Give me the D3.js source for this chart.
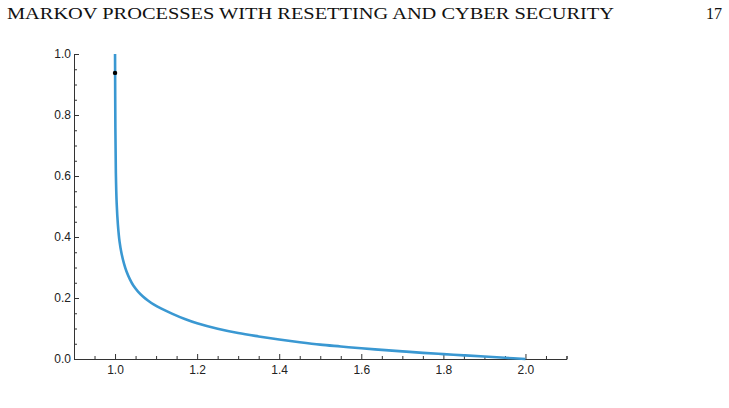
<!DOCTYPE html>
<html>
<head>
<meta charset="utf-8">
<script src="https://cdn.jsdelivr.net/npm/d3@7"></script>
<style>
  body { margin: 0; background: #fff; }
  svg { display: block; }
</style>
</head>
<body>
<div id="chart"></div>
<script>
var width  = 729;
var height = 408;

// curve
var xs = [1.0, 1.0008, 1.002, 1.004, 1.007, 1.011, 1.016, 1.022, 1.028, 1.036, 1.045, 1.056,
  1.068, 1.080, 1.095, 1.113, 1.14, 1.17, 1.2, 1.25, 1.3, 1.35, 1.4, 1.45, 1.5, 1.55,
  1.6, 1.65, 1.7, 1.75, 1.8, 1.85, 1.9, 1.95, 2.0];
var ys = [1.0, 0.76, 0.61, 0.51, 0.44, 0.385, 0.345, 0.312, 0.287, 0.262, 0.240, 0.221,
  0.205, 0.192, 0.178, 0.165, 0.148, 0.131, 0.117, 0.099, 0.085, 0.074, 0.064, 0.055, 0.047, 0.041,
  0.035, 0.030, 0.025, 0.020, 0.016, 0.012, 0.008, 0.004, 0.0];
var point = [1.0, 0.938];

var xTicks = [1.0, 1.2, 1.4, 1.6, 1.8, 2.0];
var yTicks = [0.0, 0.2, 0.4, 0.6, 0.8, 1.0];

var header = "MARKOV PROCESSES WITH RESETTING AND CYBER SECURITY";
var pageNo = "17";

var svg = d3.select("#chart").append("svg")
  .attr("width", width)
  .attr("height", height);

svg.append("text")
  .attr("x", 7).attr("y", 19)
  .attr("textLength", 607)
  .attr("lengthAdjust", "spacingAndGlyphs")
  .style("font-family", "'Liberation Serif', 'DejaVu Serif', serif")
  .style("font-size", "16px")
  .style("fill", "#111")
  .text(header);

svg.append("text")
  .attr("x", 722).attr("y", 19)
  .attr("text-anchor", "end")
  .style("font-family", "'Liberation Serif', 'DejaVu Serif', serif")
  .style("font-size", "16px")
  .style("fill", "#111")
  .text(pageNo);

var x = d3.scaleLinear().domain([0.9, 2.1]).range([74, 566.5]);
var y = d3.scaleLinear().domain([0, 1]).range([359, 54]);

var minorX = d3.range(19, 43).map(function(i) { return i * 0.05; })
  .filter(function(v) { return Math.abs(v * 5 - Math.round(v * 5)) > 1e-6; });
var minorY = d3.range(0, 21).map(function(i) { return i * 0.05; })
  .filter(function(v) { return Math.abs(v * 5 - Math.round(v * 5)) > 1e-6; });

function styleAxis(g) {
  g.selectAll("path, line").attr("stroke", "#333").attr("stroke-width", 1);
  g.selectAll("text")
    .style("font-family", "'Liberation Sans', Arial, sans-serif")
    .style("font-size", "12px")
    .style("fill", "#222");
}

// minor ticks
svg.append("g")
  .attr("transform", "translate(0," + y(0) + ")")
  .call(d3.axisBottom(x).tickValues(minorX).tickSize(-3).tickFormat(""))
  .call(styleAxis);
svg.append("g")
  .attr("transform", "translate(" + x(0.9) + ",0)")
  .call(d3.axisLeft(y).tickValues(minorY).tickSize(-3).tickFormat(""))
  .call(styleAxis);

// major ticks
svg.append("g")
  .attr("transform", "translate(0," + y(0) + ")")
  .call(d3.axisBottom(x).tickValues(xTicks).tickSizeInner(-5).tickSizeOuter(0)
    .tickPadding(6).tickFormat(d3.format(".1f")))
  .call(styleAxis);
svg.append("g")
  .attr("transform", "translate(" + x(0.9) + ",0)")
  .call(d3.axisLeft(y).tickValues(yTicks).tickSizeInner(-5).tickSizeOuter(0)
    .tickPadding(3).tickFormat(d3.format(".1f")))
  .call(styleAxis);

var line = d3.line()
  .x(function(d, i) { return x(xs[i]); })
  .y(function(d, i) { return y(ys[i]); })
  .curve(d3.curveCatmullRom.alpha(0.5));

svg.append("path")
  .datum(xs)
  .attr("d", line)
  .attr("fill", "none")
  .attr("stroke", "#3a98d2")
  .attr("stroke-width", 2.6);

svg.append("circle")
  .attr("cx", x(point[0]))
  .attr("cy", y(point[1]))
  .attr("r", 2.2)
  .style("fill", "black");
</script>
</body>
</html>
